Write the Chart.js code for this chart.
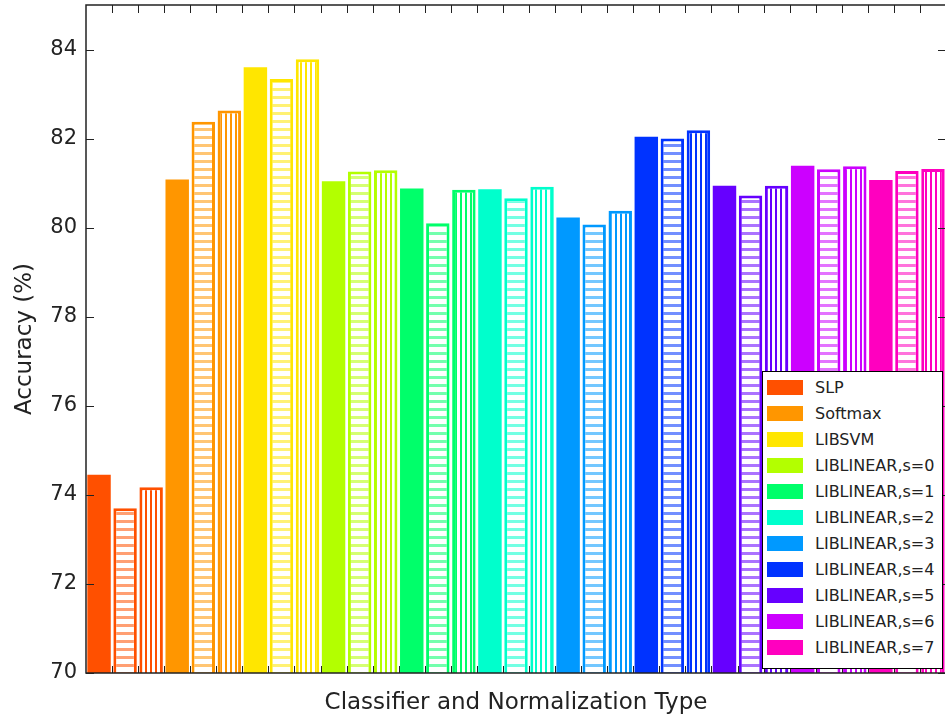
<!DOCTYPE html>
<html>
<head>
<meta charset="utf-8">
<script src="https://cdn.jsdelivr.net/npm/chart.js@4.4.0/dist/chart.umd.min.js"></script>
<style>
html, body { margin: 0; padding: 0; overflow: hidden; background: #fff; }
#wrap { position: absolute; left: 0; top: 0; width: 948px; height: 719px; }
#legend { position: absolute; left: 762px; top: 371px; width: 179px; height: 294px; margin: 0; padding: 2px 0 0 0;
  border: 1px solid #000; background: #fff; font-family: "DejaVu Sans"; font-size: 16px; color: #222; }
#legend li { list-style: none; height: 26.1px; display: flex; align-items: center; }
#legend li span { display: inline-block; width: 36px; height: 15px; margin: 0 12px 0 4px; }
</style>
</head>
<body>
<div id="wrap"><canvas id="acc_chart"></canvas></div>
<ul id="legend"></ul>
<script>
// classifiers and their colours
var classifiers = ['SLP', 'Softmax', 'LIBSVM', 'LIBLINEAR,s=0', 'LIBLINEAR,s=1', 'LIBLINEAR,s=2',
    'LIBLINEAR,s=3', 'LIBLINEAR,s=4', 'LIBLINEAR,s=5', 'LIBLINEAR,s=6', 'LIBLINEAR,s=7'];
var colors = ['#ff5000', '#ff9600', '#ffe600', '#b3ff00', '#00ff6a', '#00ffcc',
    '#0099ff', '#0033ff', '#6600ff', '#cc00ff', '#ff00bf'];

// accuracy (%) per normalization type: solid, horizontal hatch, vertical hatch
var solidAcc = [74.45, 81.08, 83.60, 81.04, 80.88, 80.86, 80.23, 82.04, 80.94, 81.39, 81.07];
var hlineAcc = [73.70, 82.38, 83.34, 81.26, 80.10, 80.66, 80.07, 82.00, 80.72, 81.31, 81.27];
var vlineAcc = [74.17, 82.63, 83.78, 81.29, 80.85, 80.92, 80.38, 82.19, 80.94, 81.38, 81.32];

var yMin = 70, yMax = 85, yStep = 2;

function hexToRgba(hex, a) {
    var r = parseInt(hex.substr(1, 2), 16), g = parseInt(hex.substr(3, 2), 16), b = parseInt(hex.substr(5, 2), 16);
    return 'rgba(' + r + ',' + g + ',' + b + ',' + a + ')';
}

function makeHatch(color, dir) {
    var c = document.createElement('canvas');
    var cx = c.getContext('2d');
    if (dir == 'h') {
        c.width = 8; c.height = 8;
        cx.fillStyle = '#fff'; cx.fillRect(0, 0, 8, 8);
        cx.fillStyle = hexToRgba(color, 0.55); cx.fillRect(0, 0, 8, 3);
    } else {
        c.width = 5; c.height = 5;
        cx.fillStyle = '#fff'; cx.fillRect(0, 0, 5, 5);
        cx.fillStyle = color; cx.fillRect(0, 0, 2, 5);
    }
    return c.getContext('2d').createPattern(c, 'repeat');
}

var labels = [], values = [], fills = [], borders = [], widths = [];
classifiers.forEach(function (name, i) {
    labels.push(name + ' 1', name + ' 2', name + ' 3');
    values.push(solidAcc[i], hlineAcc[i], vlineAcc[i]);
    fills.push(colors[i], makeHatch(colors[i], 'h'), makeHatch(colors[i], 'v'));
    borders.push(colors[i], colors[i], colors[i]);
    widths.push(0, 3, 3);
});

// legend inside the plot
var legend = document.getElementById('legend');
classifiers.forEach(function (name, i) {
    var li = document.createElement('li');
    li.innerHTML = '<span style="background:' + colors[i] + '"></span>' + name;
    legend.appendChild(li);
});

// frame and inward ticks
var frameTicks = {
    id: 'frameTicks',
    afterDatasetsDraw: function (chart) {
        var ctx = chart.ctx, a = chart.chartArea, x = chart.scales.x, y = chart.scales.y;
        ctx.save();
        ctx.strokeStyle = '#222';
        ctx.lineWidth = 1;
        ctx.beginPath();
        y.ticks.forEach(function (t) {
            var py = Math.round(y.getPixelForValue(t.value)) + 0.5;
            ctx.moveTo(a.left, py); ctx.lineTo(a.left + 8, py);
            ctx.moveTo(a.right, py); ctx.lineTo(a.right - 8, py);
        });
        var half = (x.getPixelForValue(1) - x.getPixelForValue(0)) / 2;
        for (var i = 1; i < labels.length; i++) {
            var px = Math.round(x.getPixelForValue(i) - half) + 0.5;
            ctx.moveTo(px, a.bottom); ctx.lineTo(px, a.bottom - 7);
            ctx.moveTo(px, a.top); ctx.lineTo(px, a.top + 8);
        }
        ctx.stroke();
        ctx.lineWidth = 1.5;
        ctx.strokeRect(a.left, a.top, a.right - a.left, a.bottom - a.top);
        ctx.restore();
    }
};

var acc_chart = new Chart(document.getElementById('acc_chart'), {
    type: 'bar',
    data: {
        labels: labels,
        datasets: [{
            data: values,
            backgroundColor: fills,
            borderColor: borders,
            borderWidth: widths,
            borderSkipped: false,
            barPercentage: 0.9,
            categoryPercentage: 1
        }]
    },
    plugins: [frameTicks],
    options: {
        responsive: true,
        maintainAspectRatio: false,
        animation: false,
        layout: { padding: { top: 5, right: 2, left: 0, bottom: 0 } },
        plugins: {
            legend: { display: false },
            tooltip: { enabled: false }
        },
        scales: {
            x: {
                grid: { display: false },
                border: { display: false },
                ticks: { display: false },
                title: {
                    display: true,
                    text: 'Classifier and Normalization Type',
                    color: '#222',
                    font: { family: 'DejaVu Sans', size: 23 },
                    padding: { top: 0, bottom: 2 }
                },
                afterFit: function (scale) { scale.height = 46; }
            },
            y: {
                min: yMin,
                max: yMax,
                grid: { display: false, drawTicks: false },
                border: { display: false },
                ticks: {
                    stepSize: yStep,
                    includeBounds: false,
                    padding: 9,
                    color: '#222',
                    font: { family: 'DejaVu Sans', size: 21 }
                },
                title: {
                    display: true,
                    text: 'Accuracy (%)',
                    color: '#222',
                    font: { family: 'DejaVu Sans', size: 23 },
                    padding: { top: 11, bottom: 0 }
                },
                afterFit: function (scale) {
                    scale.width = 86;
                    scale.paddingTop = 0;
                    scale.paddingBottom = 0;
                }
            }
        }
    }
});
</script>
</body>
</html>
